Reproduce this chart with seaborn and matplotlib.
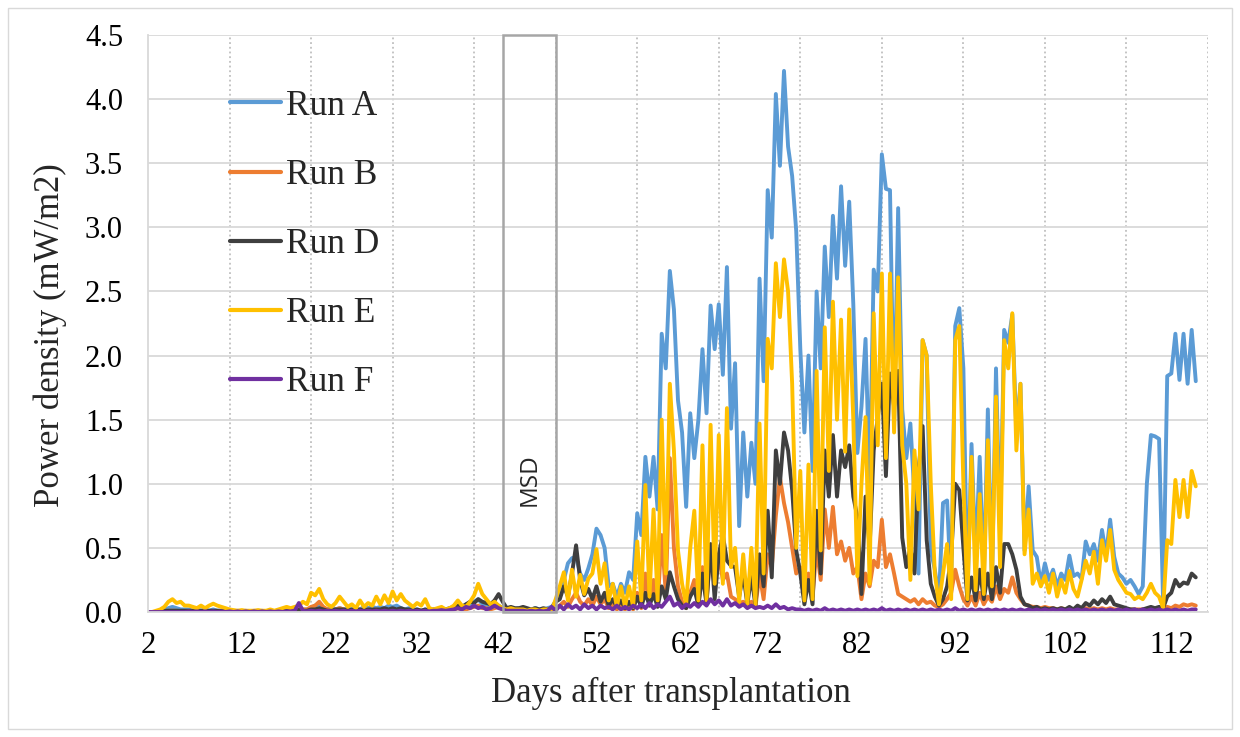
import numpy as np
import pandas as pd
import matplotlib
matplotlib.use("Agg")
import matplotlib.pyplot as plt
from matplotlib.patches import Rectangle
from matplotlib.ticker import FixedLocator, MultipleLocator
import seaborn as sns

# ---------------------------------------------------------------- data
# Power density (mW/m2) per logged sample, one list per run.
RUN_A = [
    0, 0, 0, 0.01, 0.02, 0.03, 0.04, 0.03, 0.02, 0.02,
    0.02, 0.01, 0.02, 0.01, 0.02, 0.01, 0.02, 0.01, 0.01, 0.01,
    0.01, 0, 0.01, 0, 0.01, 0, 0.01, 0, 0.01, 0,
    0.01, 0, 0.01, 0.01, 0.01, 0.01, 0.02, 0.01, 0.02, 0.02,
    0.03, 0.05, 0.06, 0.03, 0.02, 0.04, 0.02, 0.03, 0.02, 0.03,
    0.02, 0.03, 0.02, 0.04, 0.03, 0.04, 0.03, 0.04, 0.03, 0.05,
    0.04, 0.05, 0.03, 0.02, 0.03, 0.02, 0.02, 0.01, 0.02, 0.01,
    0.01, 0.01, 0.02, 0.01, 0.02, 0.03, 0.04, 0.03, 0.06, 0.04,
    0.08, 0.10, 0.06, 0.05, 0.06, 0.04, 0.05, 0.03, 0.02, 0.03,
    0.02, 0.03, 0.02, 0.02, 0.02, 0.03, 0.02, 0.02, 0.03, 0.04,
    0.08, 0.18, 0.25, 0.38, 0.42, 0.43, 0.30, 0.25, 0.34, 0.45,
    0.65, 0.60, 0.50, 0.20, 0.22, 0.12, 0.22, 0.15, 0.31, 0.25,
    0.77, 0.60, 1.21, 0.90, 1.21, 0.80, 2.17, 1.90, 2.66, 2.36,
    1.65, 1.40, 0.82, 1.55, 1.20, 1.50, 2.05, 1.55, 2.39, 2.05,
    2.40, 1.85, 2.69, 1.43, 1.94, 0.67, 1.40, 0.90, 1.32, 1.00,
    2.60, 1.80, 3.29, 2.92, 4.04, 3.48, 4.22, 3.63, 3.40, 2.97,
    2.05, 1.40, 2.00, 1.10, 2.50, 1.90, 2.85, 2.30, 3.09, 2.60,
    3.32, 2.70, 3.20, 2.40, 1.24, 1.60, 2.13, 1.00, 2.67, 2.50,
    3.57, 3.30, 3.29, 1.45, 3.15, 1.58, 1.20, 1.47, 0.90, 0.30,
    2.12, 2.00, 0.48, 0.33, 0.10, 0.85, 0.87, 0.17, 2.23, 2.37,
    1.90, 0.12, 1.31, 0.40, 1.21, 0.22, 1.58, 0.20, 1.90, 0.60,
    2.20, 2.10, 2.32, 1.40, 1.78, 0.48, 0.98, 0.48, 0.43, 0.22,
    0.38, 0.25, 0.33, 0.20, 0.30, 0.25, 0.44, 0.28, 0.30, 0.26,
    0.55, 0.45, 0.53, 0.40, 0.64, 0.45, 0.72, 0.43, 0.30, 0.27,
    0.22, 0.25, 0.20, 0.14, 0.20, 1.00, 1.38, 1.37, 1.35, 0.06,
    1.84, 1.86, 2.17, 1.81, 2.17, 1.78, 2.20, 1.80,
]

RUN_B = [
    0, 0, 0, 0, 0.005, 0.01, 0.01, 0.01, 0.005, 0.005,
    0.005, 0.005, 0.005, 0.005, 0.005, 0.005, 0.005, 0.005, 0.005, 0.005,
    0.005, 0.005, 0.005, 0.005, 0.005, 0.005, 0.005, 0.005, 0.005, 0.005,
    0.005, 0.005, 0.005, 0.005, 0.005, 0.01, 0.01, 0.01, 0.02, 0.02,
    0.04, 0.05, 0.08, 0.04, 0.02, 0.01, 0.02, 0.03, 0.02, 0.01,
    0.01, 0.01, 0.02, 0.01, 0.02, 0.01, 0.02, 0.01, 0.02, 0.01,
    0.02, 0.01, 0.02, 0.01, 0.01, 0.01, 0.01, 0.01, 0.01, 0.01,
    0.01, 0.01, 0.01, 0.01, 0.01, 0.02, 0.03, 0.02, 0.02, 0.03,
    0.04, 0.05, 0.03, 0.03, 0.02, 0.03, 0.04, 0.02, 0.01, 0.01,
    0.01, 0.01, 0.01, 0.01, 0.01, 0.01, 0.01, 0.01, 0.01, 0.01,
    0.02, 0.05, 0.08, 0.04, 0.10, 0.15, 0.08, 0.05, 0.10, 0.05,
    0.12, 0.06, 0.10, 0.03, 0.06, 0.02, 0.05, 0.02, 0.06, 0.02,
    0.15, 0.03, 0.30, 0.05, 0.25, 0.05, 0.60, 0.15, 1.20, 0.50,
    0.20, 0.08, 0.03, 0.15, 0.25, 0.05, 0.35, 0.08, 0.50, 0.20,
    0.45, 0.25, 0.30, 0.12, 0.10, 0.07, 0.08, 0.05, 0.08, 0.04,
    0.30, 0.10, 0.45, 0.35, 0.75, 1.05, 0.85, 0.70, 0.50, 0.30,
    0.35, 0.10, 0.30, 0.12, 0.50, 0.25, 0.80, 0.50, 0.82, 0.45,
    0.55, 0.40, 0.50, 0.30, 0.35, 0.10, 0.30, 0.20, 0.40, 0.35,
    0.72, 0.35, 0.45, 0.30, 0.14, 0.12, 0.10, 0.08, 0.10, 0.06,
    0.10, 0.07, 0.08, 0.05, 0.04, 0.06, 0.10, 0.15, 0.33, 0.20,
    0.10, 0.05, 0.12, 0.05, 0.15, 0.06, 0.12, 0.08, 0.20, 0.10,
    0.18, 0.15, 0.27, 0.15, 0.10, 0.06, 0.05, 0.04, 0.04, 0.03,
    0.04, 0.03, 0.03, 0.02, 0.03, 0.02, 0.03, 0.02, 0.03, 0.02,
    0.03, 0.02, 0.03, 0.02, 0.03, 0.02, 0.03, 0.02, 0.02, 0.02,
    0.02, 0.02, 0.02, 0.02, 0.02, 0.02, 0.03, 0.02, 0.03, 0.02,
    0.04, 0.03, 0.05, 0.04, 0.06, 0.05, 0.06, 0.05,
]

RUN_D = [
    0, 0, 0, 0.005, 0.01, 0.01, 0.01, 0.01, 0.01, 0.01,
    0.01, 0.01, 0.01, 0.01, 0.01, 0.01, 0.01, 0.01, 0.01, 0.01,
    0.005, 0.005, 0.005, 0.005, 0.005, 0.005, 0.005, 0.005, 0.005, 0.005,
    0.005, 0.005, 0.01, 0.01, 0.01, 0.01, 0.01, 0.02, 0.01, 0.01,
    0.02, 0.02, 0.03, 0.02, 0.01, 0.01, 0.02, 0.02, 0.02, 0.01,
    0.02, 0.01, 0.02, 0.01, 0.02, 0.02, 0.02, 0.02, 0.03, 0.02,
    0.03, 0.02, 0.03, 0.02, 0.02, 0.01, 0.02, 0.01, 0.02, 0.01,
    0.02, 0.02, 0.03, 0.02, 0.03, 0.04, 0.05, 0.04, 0.06, 0.08,
    0.07, 0.10, 0.08, 0.07, 0.06, 0.09, 0.14, 0.08, 0.03, 0.04,
    0.03, 0.03, 0.04, 0.03, 0.02, 0.03, 0.02, 0.03, 0.02, 0.03,
    0.08, 0.10, 0.20, 0.12, 0.30, 0.52, 0.25, 0.13, 0.18, 0.10,
    0.20, 0.08, 0.15, 0.05, 0.10, 0.04, 0.09, 0.03, 0.08, 0.03,
    0.12, 0.04, 0.15, 0.05, 0.14, 0.04, 0.20, 0.10, 0.31, 0.20,
    0.10, 0.05, 0.03, 0.12, 0.18, 0.05, 0.30, 0.06, 0.53, 0.10,
    0.45, 0.60, 0.40, 0.36, 0.35, 0.12, 0.30, 0.06, 0.28, 0.05,
    0.45, 0.20, 0.79, 0.27, 1.26, 1.00, 1.40, 1.26, 0.95, 0.48,
    0.30, 0.06, 0.25, 0.06, 0.79, 0.30, 1.26, 0.90, 1.38, 0.90,
    1.26, 1.13, 1.30, 0.90, 0.74, 0.14, 0.90, 0.50, 1.26, 1.52,
    1.78, 1.06, 1.86, 1.60, 1.88, 0.58, 0.35, 0.50, 0.30, 1.10,
    1.45, 0.56, 0.22, 0.12, 0.05, 0.10, 0.20, 0.43, 1.00, 0.95,
    0.50, 0.09, 0.27, 0.09, 0.33, 0.10, 0.30, 0.10, 0.35, 0.15,
    0.53, 0.53, 0.45, 0.33, 0.12, 0.06, 0.05, 0.03, 0.04, 0.02,
    0.03, 0.02, 0.03, 0.02, 0.03, 0.02, 0.04, 0.02, 0.05, 0.03,
    0.07, 0.05, 0.09, 0.06, 0.10, 0.07, 0.12, 0.06, 0.05, 0.04,
    0.03, 0.02, 0.02, 0.01, 0.02, 0.03, 0.04, 0.03, 0.04, 0.03,
    0.12, 0.15, 0.25, 0.20, 0.23, 0.22, 0.30, 0.27,
]

RUN_E = [
    0, 0, 0.01, 0.02, 0.04, 0.08, 0.10, 0.07, 0.08, 0.05,
    0.05, 0.04, 0.03, 0.05, 0.03, 0.05, 0.065, 0.05, 0.04, 0.03,
    0.02, 0.015, 0.01, 0.015, 0.01, 0.01, 0.01, 0.015, 0.01, 0.01,
    0.02, 0.01, 0.02, 0.03, 0.04, 0.03, 0.04, 0.05, 0.08, 0.06,
    0.15, 0.13, 0.18, 0.10, 0.06, 0.04, 0.07, 0.12, 0.08, 0.04,
    0.06, 0.03, 0.09, 0.04, 0.07, 0.05, 0.12, 0.06, 0.13, 0.07,
    0.16, 0.09, 0.14, 0.09, 0.065, 0.04, 0.07, 0.05, 0.10, 0.03,
    0.02, 0.03, 0.04, 0.02, 0.03, 0.05, 0.09, 0.05, 0.04, 0.08,
    0.13, 0.22, 0.14, 0.10, 0.06, 0.08, 0.05, 0.03, 0.02, 0.03,
    0.02, 0.02, 0.02, 0.01, 0.02, 0.02, 0.01, 0.02, 0.02, 0.01,
    0.10, 0.20, 0.31, 0.09, 0.33, 0.12, 0.29, 0.14, 0.26, 0.30,
    0.49, 0.22, 0.38, 0.09, 0.22, 0.04, 0.20, 0.04, 0.20, 0.04,
    0.55, 0.09, 0.99, 0.12, 0.80, 0.09, 1.50, 0.30, 1.78, 1.26,
    0.48, 0.22, 0.06, 0.50, 0.79, 0.09, 1.30, 0.09, 1.46, 0.22,
    1.38, 0.22, 1.59, 0.35, 0.50, 0.08, 0.45, 0.06, 0.50, 0.06,
    1.47, 0.30, 2.13, 1.90, 2.72, 2.30, 2.75, 2.50, 1.78, 0.50,
    1.10, 0.09, 1.15, 0.10, 1.88, 0.48, 2.22, 1.10, 2.42, 1.50,
    2.28, 1.25, 2.36, 1.50, 0.28, 1.00, 1.52, 0.22, 2.33, 1.30,
    2.64, 1.20, 2.64, 1.40, 2.61, 1.30, 1.00, 0.25, 1.26, 0.80,
    2.12, 2.00, 1.00, 0.30, 0.06, 0.30, 0.53, 0.10, 2.12, 2.23,
    1.00, 0.10, 1.21, 0.17, 0.92, 0.14, 1.34, 0.20, 1.68, 0.35,
    2.12, 1.90, 2.33, 1.26, 1.78, 0.45, 0.80, 0.22, 0.30, 0.20,
    0.28, 0.15, 0.30, 0.12, 0.25, 0.15, 0.32, 0.18, 0.12, 0.25,
    0.40, 0.30, 0.47, 0.22, 0.56, 0.40, 0.64, 0.33, 0.25, 0.20,
    0.15, 0.14, 0.10, 0.12, 0.10, 0.15, 0.22, 0.15, 0.12, 0.03,
    0.56, 0.53, 1.03, 0.74, 1.03, 0.74, 1.10, 0.98,
]

RUN_F = [
    0, 0, 0, 0, 0, 0, 0, 0, 0, 0,
    0.005, 0, 0.005, 0, 0.005, 0, 0.005, 0, 0.005, 0,
    0.005, 0, 0.005, 0, 0.005, 0, 0.005, 0, 0.005, 0,
    0.005, 0, 0.005, 0, 0.005, 0.005, 0.01, 0.07, 0.01, 0.005,
    0.01, 0.005, 0.01, 0.005, 0.01, 0.005, 0.01, 0.005, 0.01, 0.005,
    0.01, 0.005, 0.01, 0.005, 0.01, 0.005, 0.01, 0.005, 0.01, 0.005,
    0.01, 0.005, 0.01, 0.005, 0.01, 0.005, 0.01, 0.005, 0.01, 0.005,
    0.01, 0.01, 0.015, 0.01, 0.015, 0.02, 0.03, 0.02, 0.04, 0.03,
    0.05, 0.03, 0.04, 0.02, 0.03, 0.05, 0.03, 0.02, 0.01, 0.01,
    0.01, 0.01, 0.01, 0.005, 0.01, 0.005, 0.01, 0.005, 0.01, 0.04,
    0.01, 0.05, 0.02, 0.06, 0.03, 0.05, 0.02, 0.06, 0.03, 0.05,
    0.02, 0.05, 0.03, 0.04, 0.02, 0.05, 0.02, 0.04, 0.02, 0.05,
    0.03, 0.06, 0.03, 0.07, 0.03, 0.06, 0.04, 0.08, 0.12, 0.05,
    0.07, 0.03, 0.06, 0.04, 0.07, 0.04, 0.08, 0.05, 0.10, 0.06,
    0.09, 0.05, 0.10, 0.05, 0.07, 0.04, 0.06, 0.03, 0.05, 0.03,
    0.04, 0.03, 0.05, 0.03, 0.06, 0.03, 0.04, 0.02, 0.03, 0.02,
    0.02, 0.01, 0.02, 0.01, 0.02, 0.01, 0.03, 0.01, 0.02, 0.01,
    0.02, 0.01, 0.02, 0.01, 0.02, 0.01, 0.02, 0.01, 0.02, 0.01,
    0.03, 0.01, 0.02, 0.01, 0.02, 0.01, 0.02, 0.01, 0.02, 0.01,
    0.02, 0.01, 0.02, 0.01, 0.02, 0.01, 0.02, 0.01, 0.03, 0.01,
    0.02, 0.01, 0.02, 0.01, 0.02, 0.01, 0.02, 0.01, 0.02, 0.01,
    0.02, 0.01, 0.02, 0.01, 0.02, 0.01, 0.02, 0.01, 0.02, 0.01,
    0.02, 0.01, 0.02, 0.01, 0.02, 0.01, 0.02, 0.01, 0.02, 0.01,
    0.02, 0.01, 0.02, 0.01, 0.02, 0.01, 0.02, 0.01, 0.02, 0.01,
    0.02, 0.01, 0.02, 0.01, 0.02, 0.01, 0.02, 0.01, 0.02, 0.01,
    0.02, 0.01, 0.02, 0.01, 0.02, 0.01, 0.02, 0.02,
]

RUN_NAMES = ["Run A", "Run B", "Run D", "Run E", "Run F"]
RUN_COLORS = ["#5B9BD5", "#ED7D31", "#3F3F3F", "#FFC000", "#7030A0"]

# Day labels and the logged-sample index at which each labelled day falls
DAY_LABELS = ["2", "12", "22", "32", "42", "52", "62", "72", "82", "92", "102", "112"]
DAY_SAMPLE = [0, 23, 46, 66, 86, 110, 132, 152, 174, 198, 225, 251]

# MSD period, in logged-sample index
MSD_START, MSD_END = 87, 100

# ---------------------------------------------------------------- frame
series = [RUN_A, RUN_B, RUN_D, RUN_E, RUN_F]
df = pd.concat(
    [pd.DataFrame({"sample": np.arange(len(v)), "power": v, "run": name})
     for name, v in zip(RUN_NAMES, series)],
    ignore_index=True,
)

# ---------------------------------------------------------------- figure
sns.set_theme(style="white")
plt.rcParams["font.family"] = ["Liberation Serif", "DejaVu Serif"]

W, H = 1240, 737
fig = plt.figure(figsize=(W / 100, H / 100), dpi=100)
fig.patch.set_facecolor("white")
fig.patches.append(Rectangle((8 / W, 8 / H), 1224 / W, 721 / H,
                             transform=fig.transFigure, fill=False,
                             edgecolor="#d9d9d9", linewidth=1.0))

ax = fig.add_axes([148 / W, 125 / H, 1060 / W, 577 / H])

sns.lineplot(data=df, x="sample", y="power", hue="run",
             hue_order=RUN_NAMES, palette=RUN_COLORS,
             estimator=None, sort=False, linewidth=2.8, ax=ax)
for line in ax.get_lines():
    line.set_solid_joinstyle("round")
    line.set_solid_capstyle("round")

ax.set_xlim(0, 260)
ax.set_ylim(0, 4.5)

# y axis
ax.set_yticks(np.arange(0, 4.51, 0.5))
ax.set_yticklabels([f"{v:.1f}" for v in np.arange(0, 4.51, 0.5)])
ax.yaxis.grid(True, color="#d9d9d9", linewidth=1.3)

# x axis: day labels as category ticks, dotted gridlines at a fixed interval
ax.xaxis.set_major_locator(FixedLocator(DAY_SAMPLE))
ax.set_xticklabels(DAY_LABELS)
ax.xaxis.set_minor_locator(MultipleLocator(20))
ax.xaxis.grid(False, which="major")
ax.xaxis.grid(True, which="minor", color="#bfbfbf", linewidth=1.3,
              linestyle=(0, (1, 1.6)))
ax.set_axisbelow(True)

ax.tick_params(axis="both", which="both", length=0, labelsize=22,
               colors="black")
ax.tick_params(axis="y", pad=18)
ax.tick_params(axis="x", pad=14)

for side in ("top", "right"):
    ax.spines[side].set_visible(False)
for side in ("left", "bottom"):
    ax.spines[side].set_color("#d9d9d9")
    ax.spines[side].set_linewidth(1.3)

ax.set_xlabel("Days after transplantation", fontsize=25)
ax.set_ylabel("Power density (mW/m2)", fontsize=25)
ax.xaxis.set_label_coords(0.4934, -0.112)
ax.yaxis.set_label_coords(-0.076, 0.48)

# MSD period box
ax.add_patch(Rectangle((MSD_START, 0), MSD_END - MSD_START, 4.5,
                       fill=False, edgecolor="#a6a6a6", linewidth=1.8,
                       zorder=5, clip_on=False))
ax.text((MSD_START + MSD_END) / 2, 1.03, "MSD", rotation=90,
        ha="center", va="center", fontsize=17.5,
        family=["Open Sans", "DejaVu Sans"], zorder=6)

# legend
handles, labels = ax.get_legend_handles_labels()
leg = ax.legend(handles, labels, loc="upper left",
                bbox_to_anchor=(0.077, 0.905), frameon=False, fontsize=25.5,
                handlelength=1.45, handletextpad=0.15, labelspacing=1.02,
                borderaxespad=0, borderpad=0)
for line in leg.get_lines():
    line.set_linewidth(3.0)

fig.savefig("out.png", dpi=100)
